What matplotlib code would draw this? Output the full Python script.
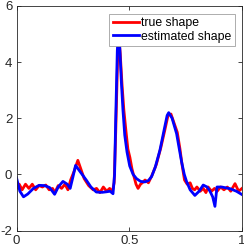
import numpy as np
import matplotlib
matplotlib.use('Agg')
import matplotlib.pyplot as plt

# values
true_x = [0.0, 0.012, 0.025, 0.04, 0.055, 0.07, 0.085, 0.1, 0.115, 0.13, 0.145, 0.16, 0.17,
          0.185, 0.2, 0.215, 0.228, 0.24, 0.255, 0.272, 0.285, 0.3, 0.32, 0.34, 0.355, 0.37,
          0.385, 0.4, 0.413, 0.425, 0.433, 0.44, 0.448, 0.454, 0.46, 0.468, 0.476, 0.486,
          0.494, 0.503, 0.512, 0.52, 0.53, 0.539, 0.55, 0.558, 0.57, 0.585, 0.6, 0.62, 0.64,
          0.657, 0.672, 0.685, 0.7, 0.713, 0.725, 0.735, 0.745, 0.757, 0.77, 0.78, 0.79, 0.8,
          0.815, 0.828, 0.84, 0.85, 0.865, 0.878, 0.89, 0.905, 0.92, 0.935, 0.95, 0.969,
          0.985, 1.0]
true_y = [-0.5, -0.35, -0.55, -0.35, -0.5, -0.35, -0.55, -0.4, -0.45, -0.38, -0.55, -0.5, -0.65,
          -0.4, -0.5, -0.35, -0.55, -0.2, 0.1, 0.5, 0.2, -0.15, -0.4, -0.55, -0.5, -0.65,
          -0.45, -0.6, -0.5, -0.62, -0.3, 1.5, 4.0, 4.9, 4.3, 3.2, 2.3, 1.5,
          0.9, 0.6, 0.2, -0.05, -0.35, -0.5, -0.35, -0.3, -0.2, -0.3, -0.05, 0.35, 0.95,
          1.55, 2.1, 2.15, 1.8, 1.5, 0.9, 0.3, -0.2, -0.35, -0.3, -0.5, -0.55, -0.45,
          -0.6, -0.5, -0.65, -0.45, -0.6, -0.5, -0.6, -0.45, -0.55, -0.45, -0.6, -0.33,
          -0.6, -0.5]

est_x = [0.0, 0.015, 0.031, 0.05, 0.075, 0.1, 0.125, 0.147, 0.169, 0.185, 0.206, 0.225, 0.238,
         0.25, 0.262, 0.28, 0.31, 0.33, 0.354, 0.38, 0.4, 0.415, 0.428, 0.435, 0.44, 0.447,
         0.452, 0.458, 0.465, 0.472, 0.48, 0.49, 0.502, 0.517, 0.532, 0.55, 0.569, 0.585,
         0.599, 0.615, 0.636, 0.655, 0.668, 0.675, 0.69, 0.71, 0.722, 0.732, 0.744, 0.754,
         0.77, 0.791, 0.81, 0.828, 0.845, 0.858, 0.87, 0.88, 0.889, 0.91, 0.947, 0.975, 1.0]
est_y = [-0.12, -0.6, -0.8, -0.7, -0.5, -0.39, -0.4, -0.47, -0.71, -0.45, -0.25, -0.35, -0.5,
         -0.1, 0.32, 0.12, -0.21, -0.45, -0.63, -0.64, -0.62, -0.6, -0.69, 0.0, 2.0, 4.4,
         5.1, 4.5, 3.3, 2.3, 1.4, 0.8, 0.3, 0.0, -0.15, -0.25, -0.27, -0.22,
         -0.08, 0.25, 0.86, 1.6, 2.1, 2.2, 2.0, 1.45, 0.9, 0.45, 0.0, -0.25,
         -0.55, -0.75, -0.6, -0.38, -0.45, -0.6, -0.8, -1.14, -0.45, -0.45, -0.51, -0.6, -0.72]

plt.rcParams['font.family'] = ['Liberation Sans', 'DejaVu Sans']
plt.rcParams['axes.unicode_minus'] = False

fig = plt.figure(figsize=(2.44, 2.49), dpi=100)
ax = fig.add_axes([16.5 / 244, 1 - 230.5 / 249, (242 - 16.5) / 244, (230.5 - 6) / 249])

ax.plot(true_x, true_y, color='#ff0000', lw=2, label='true shape')
ax.plot(est_x, est_y, color='#0000ff', lw=2, label='estimated shape')

ax.set_xlim(0, 1)
ax.set_ylim(-2, 6)
ax.set_xticks([0, 0.5, 1])
ax.set_xticklabels(['0', '0.5', '1'])
ax.set_yticks([-2, 0, 2, 4, 6])
ax.tick_params(direction='in', top=True, right=True, length=3, width=0.6,
               colors='#262626', labelsize=9.5, pad=3)
for s in ax.spines.values():
    s.set_color('#262626')
    s.set_linewidth(0.6)

leg = ax.legend(loc='upper right', bbox_to_anchor=(0.967, 0.965), fontsize=8.8,
                handlelength=2.2, handletextpad=0.15, borderpad=0.25,
                labelspacing=0.15, borderaxespad=0, fancybox=False, framealpha=1)
leg.get_frame().set_edgecolor('#a0a0a0')
leg.get_frame().set_linewidth(0.6)

fig.savefig('out.png', dpi=100)
